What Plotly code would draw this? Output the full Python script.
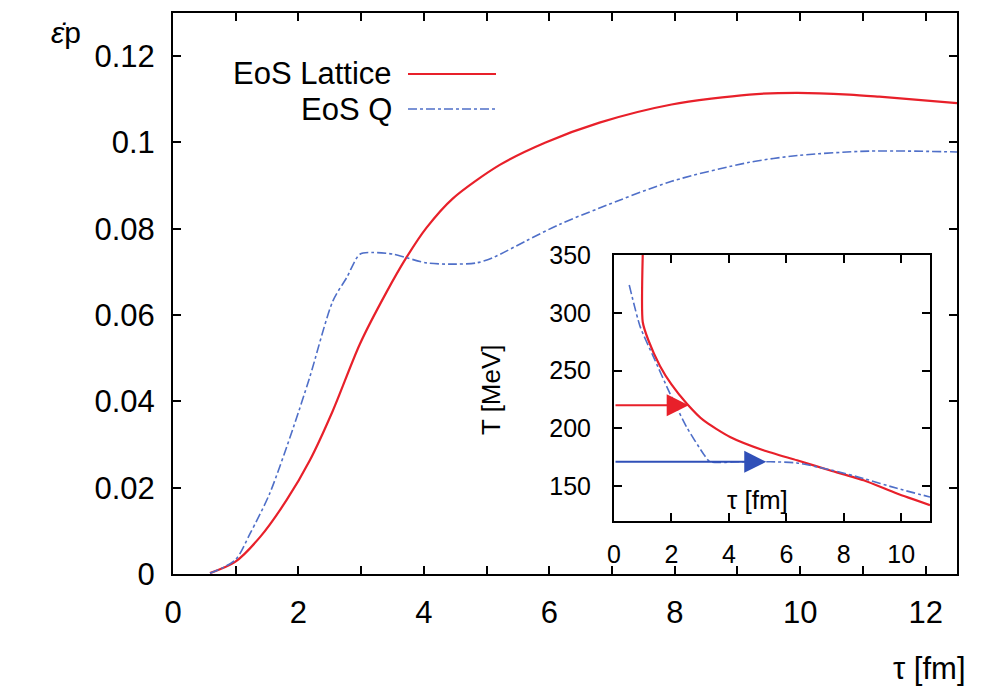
import plotly.graph_objects as go

# ---------------- data ----------------
# main panel: tau [fm] vs epsilon_p
tau_lattice = [0.59, 0.99, 1.39, 1.81, 2.18, 2.55, 2.98, 3.40, 3.72, 4.04, 4.46,
               5.21, 5.94, 6.80, 7.95, 9.19, 9.94, 10.78, 11.26, 12.5]
eps_lattice = [0.0002, 0.0028, 0.0086, 0.0171, 0.0263, 0.0379, 0.0533, 0.0652, 0.0733,
               0.0802, 0.0870, 0.0948, 0.1000, 0.1046, 0.1088, 0.1111, 0.1115, 0.1111,
               0.1106, 0.1091]

tau_q = [0.59, 0.99, 1.23, 1.54, 1.92, 2.18, 2.55, 2.77, 2.98, 3.19, 3.51, 3.72,
         4.04, 4.41, 4.84, 5.10, 5.63, 6.16, 6.80, 7.95, 9.19, 9.98, 11.1, 12.5]
eps_q = [0.0002, 0.0032, 0.0094, 0.0186, 0.0340, 0.0456, 0.0633, 0.0687, 0.0741,
         0.0745, 0.0741, 0.0733, 0.0721, 0.0718, 0.0721, 0.0733, 0.0772, 0.0810,
         0.0848, 0.0910, 0.0954, 0.0970, 0.0980, 0.0978]

# inset: tau [fm] vs T [MeV]
tau_T_lattice = [1.0, 1.0, 1.2, 1.6, 2.0, 2.53, 3.11, 4.04, 5.2, 6.37, 7.53, 8.69, 9.85, 11.0]
T_lattice = [350, 292, 276, 254, 238, 221.5, 207, 192.5, 181, 172.3, 163.5, 155, 143.5, 133.5]

tau_T_q = [0.53, 0.91, 1.37, 1.95, 2.53, 3.11, 3.34, 4.4, 5.44, 6.37, 7.53, 8.69, 9.85, 11.0]
T_q = [324, 288, 262, 230, 201, 178, 171, 171, 171, 170, 164, 156.5, 148, 140.5]

# arrows in inset: (start tau, end tau, T)
arrow_lattice = (0.0, 2.6, 220)
arrow_q = (0.0, 5.3, 171)

main_xticks = [0, 2, 4, 6, 8, 10, 12]
main_yticks = [0, 0.02, 0.04, 0.06, 0.08, 0.1, 0.12]
main_yticklabels = ["0", "0.02", "0.04", "0.06", "0.08", "0.1", "0.12"]
inset_xticks = [0, 2, 4, 6, 8, 10]
inset_yticks = [150, 200, 250, 300, 350]

RED = "#e8202a"
BLUE = "#4f6fc8"
FONT = "Liberation Sans, Arial, sans-serif"

# plot-area geometry in page pixels (page body has an 8px margin)
PX0, PX1, PY0, PY1 = 173, 957, 13, 574
PW, PH = PX1 - PX0, PY1 - PY0


def px(xp):
    return (xp - PX0) / PW


def py(yp):
    return (PY1 - yp) / PH


fig = go.Figure()

fig.add_trace(go.Scatter(x=tau_lattice, y=eps_lattice, mode="lines",
                         line=dict(color=RED, width=2.2, shape="spline", smoothing=0.8),
                         xaxis="x", yaxis="y", showlegend=False))
fig.add_trace(go.Scatter(x=tau_q, y=eps_q, mode="lines",
                         line=dict(color=BLUE, width=1.6, dash="dashdot", shape="spline", smoothing=0.8),
                         xaxis="x", yaxis="y", showlegend=False))

fig.add_trace(go.Scatter(x=tau_T_lattice, y=T_lattice, mode="lines",
                         line=dict(color=RED, width=2.2, shape="spline", smoothing=0.6),
                         xaxis="x2", yaxis="y2", showlegend=False))
fig.add_trace(go.Scatter(x=tau_T_q, y=T_q, mode="lines",
                         line=dict(color=BLUE, width=1.6, dash="dashdot", shape="spline", smoothing=0.6),
                         xaxis="x2", yaxis="y2", showlegend=False))

axis_common = dict(showline=True, linecolor="black", linewidth=2, mirror="ticks", ticks="inside",
                   tickcolor="black", tickwidth=2, showgrid=False, zeroline=False, automargin=False)

fig.update_layout(
    width=1004, height=690,
    margin=dict(l=PX0 - 8, r=1004 + 8 - PX1, t=PY0 - 8, b=690 + 8 - PY1, autoexpand=False),
    paper_bgcolor="white", plot_bgcolor="white",
    font=dict(family=FONT, color="black"),
    xaxis=dict(range=[0, 12.5], tickvals=main_xticks, ticklen=8, tickfont=dict(size=31),
               ticklabelstandoff=10,
               minor=dict(dtick=1, ticks="inside", ticklen=8, tickwidth=2, tickcolor="black"),
               domain=[0, 1], **axis_common),
    yaxis=dict(range=[0, 0.13], tickvals=main_yticks, ticktext=main_yticklabels, ticklen=8,
               tickfont=dict(size=31), ticklabelstandoff=10, domain=[0, 1], **axis_common),
    xaxis2=dict(range=[0, 11], tickvals=inset_xticks, ticklen=8, tickfont=dict(size=25),
                ticklabelstandoff=10, domain=[px(614), px(930)], anchor="y2", **axis_common),
    yaxis2=dict(range=[120, 350], tickvals=inset_yticks, ticklen=8, tickfont=dict(size=25),
                ticklabelstandoff=16, domain=[py(520.7), py(255)], anchor="x2", **axis_common),
)

annotations = [
    # y-axis label of main panel
    dict(text="<i>ε̇</i>p", xref="paper", yref="paper", x=px(66), y=py(33),
         showarrow=False, font=dict(size=30, family=FONT), xanchor="center", yanchor="middle"),
    # x-axis label of main panel
    dict(text="τ [fm]", xref="paper", yref="paper", x=px(968), y=py(668),
         showarrow=False, font=dict(size=31, family=FONT), xanchor="right", yanchor="middle"),
    # legend texts
    dict(text="EoS Lattice", xref="paper", yref="paper", x=px(394), y=py(73),
         showarrow=False, font=dict(size=31, family=FONT), xanchor="right", yanchor="middle"),
    dict(text="EoS Q", xref="paper", yref="paper", x=px(394), y=py(109),
         showarrow=False, font=dict(size=31, family=FONT), xanchor="right", yanchor="middle"),
    # inset titles
    dict(text="T [MeV]", xref="paper", yref="paper", x=px(491), y=py(390),
         showarrow=False, textangle=-90, font=dict(size=26, family=FONT), xanchor="center", yanchor="middle"),
    dict(text="τ [fm]", xref="x2", yref="y2", x=5.0, y=138, showarrow=False,
         font=dict(size=26, family=FONT), xanchor="center", yanchor="middle"),
]

for (t0, t1, T), col in [(arrow_lattice, RED), (arrow_q, "#3050b8")]:
    annotations.append(dict(x=t1, y=T, ax=t0, ay=T, xref="x2", yref="y2", axref="x2", ayref="y2",
                            text="", showarrow=True, arrowhead=2, arrowsize=2.2, arrowwidth=2,
                            arrowcolor=col, standoff=0))

fig.update_layout(annotations=annotations)

# legend line samples
fig.add_shape(type="line", xref="paper", yref="paper", x0=px(408), x1=px(496),
              y0=py(74), y1=py(74), line=dict(color=RED, width=2.2))
fig.add_shape(type="line", xref="paper", yref="paper", x0=px(408), x1=px(496),
              y0=py(109), y1=py(109), line=dict(color=BLUE, width=1.6, dash="dashdot"))

fig.write_html("out.html")
